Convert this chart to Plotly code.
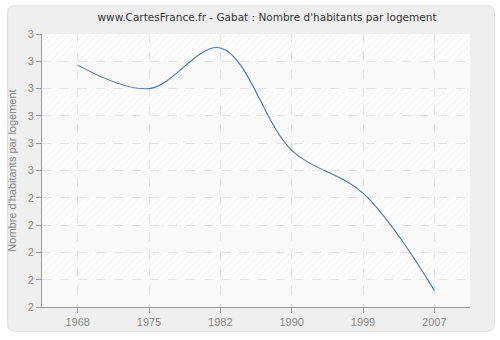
import plotly.graph_objects as go

years = ["1968", "1975", "1982", "1990", "1999", "2007"]
values = [2.886, 2.800, 2.949, 2.574, 2.417, 2.061]
y_ticks = [2.0, 2.1, 2.2, 2.3, 2.4, 2.5, 2.6, 2.7, 2.8, 2.9, 3.0]

title = "www.CartesFrance.fr - Gabat : Nombre d'habitants par logement"
y_title = "Nombre d'habitants par logement"

W, H = 500, 340
ML, MR, MT, MB = 40, 30, 34, 30
PW, PH = W - ML - MR, H - MT - MB

def xp(px):
    return (px - ML) / PW

def yp(py):
    return (H - MB - py) / PH

def rounded_rect(x0, y0, x1, y1, r):
    pts = [
        f"M {xp(x0 + r)},{yp(y0)}",
        f"L {xp(x1 - r)},{yp(y0)}",
        f"Q {xp(x1)},{yp(y0)} {xp(x1)},{yp(y0 + r)}",
        f"L {xp(x1)},{yp(y1 - r)}",
        f"Q {xp(x1)},{yp(y1)} {xp(x1 - r)},{yp(y1)}",
        f"L {xp(x0 + r)},{yp(y1)}",
        f"Q {xp(x0)},{yp(y1)} {xp(x0)},{yp(y1 - r)}",
        f"L {xp(x0)},{yp(y0 + r)}",
        f"Q {xp(x0)},{yp(y0)} {xp(x0 + r)},{yp(y0)}",
        "Z",
    ]
    return " ".join(pts)

xs = list(range(len(years)))
x_lo, x_hi = -0.5, len(years) - 0.5

shapes = [
    dict(type="path", xref="paper", yref="paper", layer="below",
         path=rounded_rect(5.5, 5.5, 494.5, 334.5, 7),
         fillcolor="#efefef", line=dict(color="#dedede", width=1)),
    dict(type="rect", xref="x", yref="y", layer="below",
         x0=x_lo, x1=x_hi, y0=y_ticks[0], y1=y_ticks[-1],
         fillcolor="#ffffff", line=dict(width=0)),
]

hx, hy = [], []
for i in range(len(y_ticks) - 1):
    lo, hi = y_ticks[i], y_ticks[i + 1]
    if i % 2 == 0:
        shapes.append(dict(type="rect", xref="x", yref="y", layer="below",
                           x0=x_lo, x1=x_hi, y0=lo, y1=hi,
                           fillcolor="#f9f9f9", line=dict(width=0)))
    else:
        hx += [x_lo, x_hi, x_hi, x_lo, x_lo, None]
        hy += [lo, lo, hi, hi, lo, None]

fig = go.Figure()
fig.add_trace(go.Scatter(
    x=hx, y=hy, mode="lines", fill="toself",
    fillcolor="rgba(0,0,0,0)", line=dict(width=0),
    fillpattern=dict(shape="/", fgcolor="#e6e6e6", bgcolor="rgba(0,0,0,0)",
                     size=5, solidity=0.25),
    hoverinfo="skip", showlegend=False,
))
fig.add_trace(go.Scatter(
    x=xs, y=values, mode="lines",
    line=dict(color="#4a74a8", width=1.1, shape="spline", smoothing=1.0),
    showlegend=False,
))

fig.update_layout(
    width=W, height=H,
    margin=dict(l=ML, r=MR, t=MT, b=MB),
    paper_bgcolor="#ffffff",
    plot_bgcolor="#ffffff",
    shapes=shapes,
    font=dict(family="Liberation Sans, Arial, sans-serif", size=11, color="#888888"),
    title=dict(text=title, x=267 / W, xanchor="center", y=1 - 17 / H, yanchor="middle",
               font=dict(family="DejaVu Sans, sans-serif", size=10.5, color="#333333")),
)
fig.update_xaxes(
    range=[x_lo, x_hi], tickmode="array", tickvals=xs, ticktext=years,
    showline=True, linecolor="#999999", linewidth=1,
    ticks="outside", ticklen=5, tickcolor="#999999",
    showgrid=True, gridcolor="#e3e3e3", griddash="dash", gridwidth=1,
    zeroline=False, fixedrange=True,
)
fig.update_yaxes(
    range=[y_ticks[0], y_ticks[-1]], tickmode="array", tickvals=y_ticks,
    tickformat=".0f",
    showline=True, linecolor="#999999", linewidth=1,
    ticks="outside", ticklen=5, tickcolor="#999999",
    showgrid=True, gridcolor="#e3e3e3", griddash="dash", gridwidth=1,
    zeroline=False, fixedrange=True,
    title=dict(text=y_title, font=dict(size=11, color="#888888"), standoff=8),
)

fig.write_html("out.html")
